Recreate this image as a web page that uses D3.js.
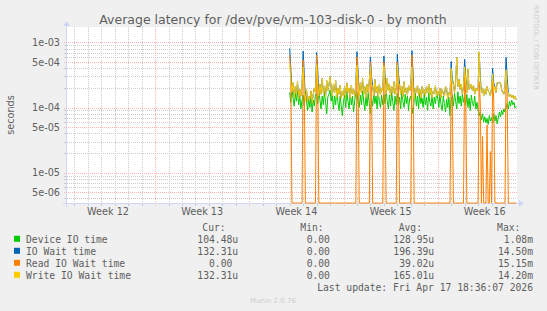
<!DOCTYPE html>
<html>
<head>
<meta charset="utf-8">
<script src="https://cdn.jsdelivr.net/npm/d3@7"></script>
<style>
  html, body { margin: 0; padding: 0; background: #f0f0f0; }
  svg { display: block; }
</style>
</head>
<body>
<div id="chart"></div>
<script>
(function () {
  'use strict';

  // 2-hourly averages from Apr 1 2026 00:00 UTC, values in microseconds
  var sampleStart = Date.UTC(2026, 3, 1, 0, 0);
  var sampleStepHours = 2;

  var deviceIoTime = [
    170, 120, 195, 140, 105, 165, 125, 180, 110, 150, 95, 130,
    155, 105, 175, 125, 90, 140, 100, 150, 85, 130, 105, 160,
    165, 115, 190, 130, 95, 150, 110, 175, 120, 80, 145, 160,
    185, 125, 160, 95, 150, 110, 195, 120, 90, 150, 105, 75,
    125, 155, 100, 175, 125, 95, 165, 110, 150, 85, 130, 160,
    170, 120, 100, 155, 110, 180, 125, 90, 145, 105, 165, 115,
    80, 135, 105, 165, 115, 150, 95, 175, 120, 100, 155, 110,
    160, 115, 185, 125, 95, 155, 105, 170, 120, 90, 150, 110,
    165, 110, 145, 95, 180, 125, 100, 160, 115, 150, 90, 135,
    150, 100, 80, 130, 165, 105, 150, 95, 175, 115, 140, 100,
    160, 110, 145, 90, 170, 120, 105, 155, 95, 145, 115, 165,
    140, 100, 160, 110, 90, 150, 115, 85, 135, 100, 145, 75,
    130, 155, 105, 165, 125, 95, 175, 115, 150, 105, 160, 120,
    145, 110, 160, 100, 140, 90, 155, 115, 105, 150, 95, 120,
    90, 75, 85, 65, 80, 60, 72, 58, 68, 55, 75, 62,
    70, 58, 80, 62, 75, 56, 68, 85, 72, 90, 78, 95,
    85, 100, 115, 95, 125, 105, 130, 110, 120, 98, 104
  ];
  var ioWaitTime = [
    810, 400, 170, 240, 140, 210, 160, 250, 135, 190, 150, 220,
    740, 330, 130, 190, 120, 150, 135, 180, 115, 160, 200, 170,
    700, 380, 150, 230, 160, 280, 170, 210, 145, 260, 180, 220,
    300, 200, 150, 230, 170, 260, 140, 200, 160, 220, 135, 180,
    150, 210, 140, 240, 170, 200, 140, 220, 160, 190, 145, 230,
    720, 350, 150, 240, 170, 280, 160, 210, 140, 230, 170, 260,
    600, 300, 220, 150, 270, 170, 210, 145, 230, 160, 200, 180,
    620, 330, 160, 280, 180, 230, 150, 210, 170, 250, 160, 200,
    660, 330, 230, 160, 210, 145, 250, 170, 200, 155, 220, 180,
    200, 750, 350, 135, 200, 170, 220, 150, 190, 140, 210, 165,
    190, 150, 210, 170, 230, 155, 200, 140, 180, 165, 215, 150,
    180, 155, 200, 140, 190, 165, 150, 210, 190, 135, 170, 155,
    510, 280, 230, 170, 250, 590, 210, 270, 190, 230, 160, 210,
    550, 300, 170, 390, 190, 200, 230, 180, 220, 160, 200, 180,
    200, 700, 300, 170, 200, 150, 190, 160, 210, 180, 170, 150,
    200, 400, 240, 210, 170, 240, 240, 240, 240, 190, 170, 160,
    210, 590, 280, 170, 145, 160, 140, 155, 135, 150, 132
  ];
  var readIoWaitTime = [
    640, 300, 0, 0, 0, 0, 0, 0, 0, 0, 0, 0,
    540, 260, 0, 0, 0, 0, 0, 0, 0, 0, 0, 0,
    640, 300, 0, 0, 0, 0, 0, 0, 0, 0, 0, 0,
    0, 0, 0, 0, 0, 0, 0, 0, 0, 0, 0, 0,
    0, 0, 0, 0, 0, 0, 0, 0, 0, 0, 0, 0,
    600, 280, 0, 0, 0, 0, 0, 0, 0, 0, 0, 0,
    500, 250, 0, 0, 0, 0, 0, 0, 0, 0, 0, 0,
    500, 240, 0, 0, 0, 0, 0, 0, 0, 0, 0, 0,
    500, 250, 0, 0, 0, 0, 0, 0, 0, 0, 0, 0,
    0, 640, 300, 0, 0, 0, 0, 0, 0, 0, 0, 0,
    0, 0, 0, 0, 0, 0, 0, 0, 0, 0, 0, 0,
    0, 0, 0, 0, 0, 0, 0, 0, 0, 0, 0, 0,
    260, 150, 0, 0, 0, 0, 0, 0, 0, 0, 0, 0,
    340, 160, 0, 0, 0, 0, 0, 0, 0, 0, 0, 0,
    0, 250, 120, 0, 36, 0, 0, 0, 54, 0, 0, 21,
    0, 260, 130, 0, 0, 0, 0, 0, 0, 0, 0, 0,
    0, 340, 150, 0, 0, 0, 0, 0, 0, 0, 0
  ];
  var writeIoWaitTime = [
    450, 260, 170, 240, 140, 210, 160, 250, 135, 190, 150, 220,
    420, 180, 130, 190, 120, 150, 135, 180, 115, 160, 200, 170,
    460, 220, 150, 230, 160, 280, 170, 210, 145, 260, 180, 220,
    300, 200, 150, 230, 170, 260, 140, 200, 160, 220, 135, 180,
    150, 210, 140, 240, 170, 200, 140, 220, 160, 190, 145, 230,
    450, 230, 150, 240, 170, 280, 160, 210, 140, 230, 170, 260,
    430, 210, 220, 150, 270, 170, 210, 145, 230, 160, 200, 180,
    440, 240, 160, 280, 180, 230, 150, 210, 170, 250, 160, 200,
    450, 220, 230, 160, 210, 145, 250, 170, 200, 155, 220, 180,
    200, 420, 190, 135, 200, 170, 220, 150, 190, 140, 210, 165,
    190, 150, 210, 170, 230, 155, 200, 140, 180, 165, 215, 150,
    180, 155, 200, 140, 190, 165, 150, 210, 190, 135, 170, 155,
    400, 230, 230, 170, 250, 590, 210, 270, 190, 230, 160, 210,
    420, 250, 170, 390, 190, 200, 230, 180, 220, 160, 200, 180,
    200, 720, 240, 170, 200, 150, 190, 160, 210, 180, 170, 150,
    200, 330, 180, 210, 170, 240, 240, 240, 240, 190, 170, 160,
    210, 380, 175, 170, 145, 160, 140, 155, 135, 150, 132
  ];

  var seriesNames = ['Device IO time', 'IO Wait time', 'Read IO Wait time',
                     'Write IO Wait time'];
  var seriesColors = ['#00cc00', '#0066b3', '#ff8000', '#ffcc00'];
  var legendCur = ['104.48u', '132.31u', '0.00\u00a0', '132.31u'];
  var legendMin = ['0.00\u00a0', '0.00\u00a0', '0.00\u00a0', '0.00\u00a0'];
  var legendAvg = ['128.95u', '196.39u', '39.02u', '165.01u'];
  var legendMax = ['1.08m', '14.50m', '15.15m', '14.20m'];

  var yTickValues = [1e-3, 5e-4, 1e-4, 5e-5, 1e-5, 5e-6];
  var yTickLabels = ['1e-03', '5e-04', '1e-04', '5e-05', '1e-05', '5e-06'];

  var viewStart = new Date(Date.UTC(2026, 2, 15, 10, 48));
  var viewEnd = new Date(Date.UTC(2026, 3, 17, 21, 27));

  var W = 547, H = 311;
  var left = 67, right = 517, top = 27, bottom = 203;
  var textColor = '#5e5e5e';
  var axisColor = '#cfd6f8';
  var minorColor = '#cccccc';
  var majorColor = '#ffb4b4';
  var sans = 'DejaVu Sans, sans-serif';
  var mono = 'DejaVu Sans Mono, monospace';

  var svg = d3.select('#chart').append('svg')
    .attr('width', W)
    .attr('height', H);

  svg.append('rect')
    .attr('width', W).attr('height', H)
    .style('fill', '#f0f0f0');

  var x = d3.scaleUtc().domain([viewStart, viewEnd]).range([left, right]);
  var y = d3.scaleLog().domain([3.4e-6, 1.73e-3]).range([bottom, top]);

  svg.append('rect')
    .attr('x', left).attr('y', top)
    .attr('width', right - left).attr('height', bottom - top)
    .style('fill', '#ffffff');

  var snap = function(v) { return Math.round(v) + 0.5; };

  var grid = svg.append('g');
  var days = d3.utcDay.range(viewStart, viewEnd).filter(function(d) {
    return d.getUTCDay() !== 0;
  });
  var weeks = d3.utcSunday.range(viewStart, viewEnd);
  var minorY = y.ticks().filter(function(v) {
    return yTickValues.every(function(t) { return Math.abs(t - v) / t > 1e-6; });
  });

  // minor grid
  grid.selectAll('.vminor').data(days).enter().append('line')
    .attr('x1', function(d) { return snap(x(d)); })
    .attr('x2', function(d) { return snap(x(d)); })
    .attr('y1', top).attr('y2', bottom)
    .style('stroke', minorColor).style('stroke-dasharray', '1,1');
  grid.selectAll('.hminor').data(minorY).enter().append('line')
    .attr('x1', left).attr('x2', right)
    .attr('y1', function(d) { return snap(y(d)); })
    .attr('y2', function(d) { return snap(y(d)); })
    .style('stroke', minorColor).style('stroke-dasharray', '1,1');

  // minor ticks outside the canvas
  grid.selectAll('.vtick').data(days).enter().append('line')
    .attr('x1', function(d) { return snap(x(d)); })
    .attr('x2', function(d) { return snap(x(d)); })
    .attr('y1', bottom).attr('y2', bottom + 3)
    .style('stroke', minorColor);
  grid.selectAll('.htick').data(minorY).enter().append('line')
    .attr('x1', left - 3).attr('x2', left)
    .attr('y1', function(d) { return snap(y(d)); })
    .attr('y2', function(d) { return snap(y(d)); })
    .style('stroke', minorColor);

  // major grid
  grid.selectAll('.vmajor').data(weeks).enter().append('line')
    .attr('x1', function(d) { return snap(x(d)); })
    .attr('x2', function(d) { return snap(x(d)); })
    .attr('y1', top).attr('y2', bottom + 3)
    .style('stroke', majorColor).style('stroke-dasharray', '1,1');
  grid.selectAll('.hmajor').data(yTickValues).enter().append('line')
    .attr('x1', left - 3).attr('x2', right)
    .attr('y1', function(d) { return snap(y(d)); })
    .attr('y2', function(d) { return snap(y(d)); })
    .style('stroke', majorColor).style('stroke-dasharray', '1,1');

  // axes
  svg.append('line')
    .attr('x1', left - 4).attr('x2', right + 2)
    .attr('y1', bottom + 0.5).attr('y2', bottom + 0.5)
    .style('stroke', axisColor);
  svg.append('line')
    .attr('x1', left - 0.5).attr('x2', left - 0.5)
    .attr('y1', bottom + 4).attr('y2', top - 3)
    .style('stroke', axisColor);
  svg.append('polygon')
    .attr('points', (right + 2) + ',' + (bottom - 3) + ' ' +
                    (right + 7) + ',' + (bottom + 0.5) + ' ' +
                    (right + 2) + ',' + (bottom + 4))
    .style('fill', axisColor);
  svg.append('polygon')
    .attr('points', (left - 4) + ',' + (top - 1) + ' ' +
                    (left - 0.5) + ',' + (top - 6) + ' ' +
                    (left + 3) + ',' + (top - 1))
    .style('fill', axisColor);

  // axis labels
  svg.selectAll('.ylab').data(yTickValues).enter().append('text')
    .attr('x', left - 7)
    .attr('y', function(d) { return y(d) + 3.5; })
    .attr('text-anchor', 'end')
    .style('font-family', sans).style('font-size', '9.7px')
    .style('fill', textColor)
    .text(function(d, i) { return yTickLabels[i]; });

  var weekLabels = d3.utcSunday.range(d3.utcDay.offset(viewStart, -7), viewEnd)
    .map(function(d) { return new Date(d.getTime() + 3.5 * 864e5); })
    .filter(function(d) { return d > viewStart && d < viewEnd; });
  svg.selectAll('.xlab').data(weekLabels).enter().append('text')
    .attr('x', function(d) { return x(d); })
    .attr('y', 215)
    .attr('text-anchor', 'middle')
    .style('font-family', sans).style('font-size', '9.7px')
    .style('fill', textColor)
    .text(function(d) { return 'Week ' + d3.utcFormat('%V')(d); });

  svg.append('text')
    .attr('transform', 'translate(14,115) rotate(-90)')
    .attr('text-anchor', 'middle')
    .style('font-family', sans).style('font-size', '9.7px')
    .style('fill', textColor)
    .text('seconds');

  svg.append('text')
    .attr('x', 273).attr('y', 24)
    .attr('text-anchor', 'middle')
    .style('font-family', sans).style('font-size', '12.5px')
    .style('fill', textColor)
    .text('Average latency for /dev/pve/vm-103-disk-0 - by month');

  svg.append('text')
    .attr('transform', 'translate(534,5) rotate(90)')
    .style('font-family', sans).style('font-size', '6.6px')
    .style('fill', '#cccccc')
    .text('RRDTOOL / TOBI OETIKER');

  // series
  var toPoints = function(values) {
    return values.map(function(v, i) {
      return { t: new Date(sampleStart + i * sampleStepHours * 36e5),
               v: v * 1e-6 };
    });
  };
  var yPos = function(v) {
    return v > y.domain()[0] ? y(v) : bottom;
  };
  var line = d3.line()
    .x(function(d) { return x(d.t); })
    .y(function(d) { return yPos(d.v); });

  var series = [deviceIoTime, ioWaitTime, readIoWaitTime, writeIoWaitTime];
  svg.append('g').selectAll('path')
    .data(series)
    .enter().append('path')
    .attr('d', function(d) { return line(toPoints(d)); })
    .style('fill', 'none')
    .style('stroke', function(d, i) { return seriesColors[i]; })
    .style('stroke-width', 1);

  // legend
  var rowY = [242.8, 254.8, 266.8, 278.8];
  var legend = svg.append('g')
    .style('font-family', mono).style('font-size', '9.7px')
    .style('fill', textColor)
    .style('white-space', 'pre');

  var headers = [['Cur:', 225.7], ['Min:', 323.7], ['Avg:', 422], ['Max:', 520.4]];
  headers.forEach(function(h) {
    legend.append('text')
      .attr('x', h[1]).attr('y', 230.5)
      .attr('text-anchor', 'end')
      .text(h[0]);
  });

  var columns = [[legendCur, 238.2], [legendMin, 335.8],
                 [legendAvg, 434.2], [legendMax, 533]];
  seriesNames.forEach(function(name, i) {
    legend.append('rect')
      .attr('x', 14).attr('y', rowY[i] - 7)
      .attr('width', 6).attr('height', 6)
      .style('fill', seriesColors[i]);
    legend.append('text')
      .attr('x', 26).attr('y', rowY[i])
      .text(name);
    columns.forEach(function(c) {
      legend.append('text')
        .attr('x', c[1]).attr('y', rowY[i])
        .attr('text-anchor', 'end')
        .text(c[0][i]);
    });
  });

  legend.append('text')
    .attr('x', 533).attr('y', 290.8)
    .attr('text-anchor', 'end')
    .text('Last update: Fri Apr 17 18:36:07 2026');

  svg.append('text')
    .attr('x', 273).attr('y', 303)
    .attr('text-anchor', 'middle')
    .style('font-family', sans).style('font-size', '7px')
    .style('fill', '#cccccc')
    .text('Munin 2.0.76');
})();
</script>
</body>
</html>
